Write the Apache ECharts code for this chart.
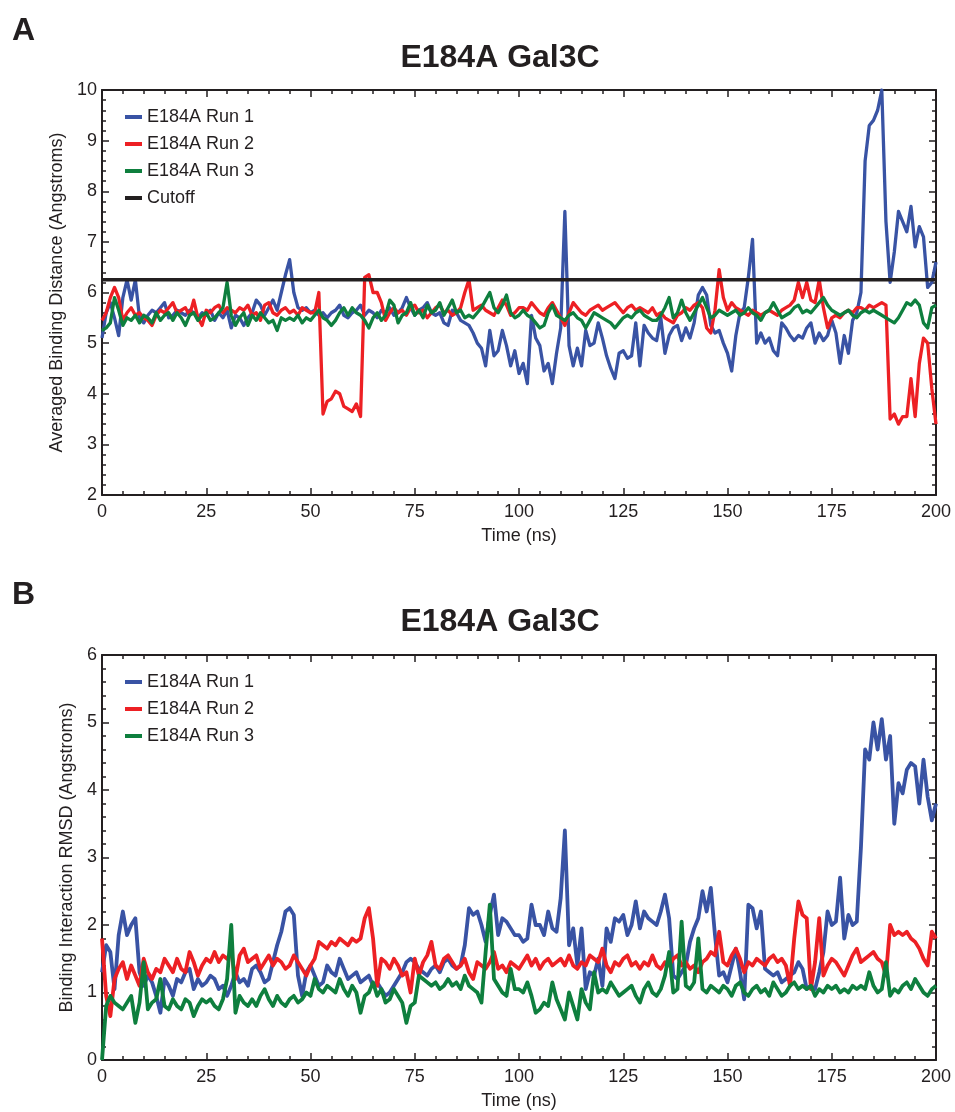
<!DOCTYPE html>
<html>
<head>
<meta charset="utf-8">
<script src="https://cdn.jsdelivr.net/npm/echarts@6/dist/echarts.min.js"></script>
<style>
  html, body { margin: 0; padding: 0; background: #fff; }
  #main { width: 955px; height: 1112px; }
</style>
</head>
<body>
<div id="main"></div>
<script>
// samples are 1 ns apart, starting at 0 ns
const stepNs = 1;

// Panel A: averaged binding distance (Angstroms)
const distRun1 = [
  5.1, 5.6, 5.8, 5.5, 5.15, 5.9, 6.25, 5.85, 6.25, 5.5,
  5.4, 5.55, 5.65, 5.6, 5.7, 5.8, 5.5, 5.55, 5.65, 5.6,
  5.55, 5.65, 5.6, 5.5, 5.6, 5.55, 5.65, 5.45, 5.6, 5.5,
  5.65, 5.3, 5.55, 5.5, 5.35, 5.5, 5.6, 5.85, 5.75, 5.55,
  5.7, 5.85, 5.65, 6.0, 6.35, 6.65, 6.0, 5.7, 5.65, 5.7,
  5.6, 5.65, 5.55, 5.6, 5.5, 5.6, 5.65, 5.75, 5.55, 5.5,
  5.6, 5.65, 5.75, 5.55, 5.65, 5.6, 5.5, 5.65, 5.6, 5.7,
  5.55, 5.6, 5.7, 5.9, 5.7, 5.55, 5.65, 5.7, 5.8, 5.6,
  5.55, 5.6, 5.4, 5.35, 5.65, 5.6, 5.45, 5.4, 5.35, 5.2,
  5.0, 4.9, 4.55, 5.25, 4.75, 4.85, 5.25, 4.95, 4.55, 4.85,
  4.4, 4.6, 4.2, 5.55, 5.1, 4.95, 4.45, 4.6, 4.2, 4.8,
  5.3, 7.6, 4.95, 4.55, 4.9, 4.55, 5.25, 4.95, 5.0, 5.4,
  5.1, 4.75, 4.5, 4.3, 4.8, 4.85, 4.7, 4.75, 5.4, 4.55,
  5.35, 5.2, 5.1, 5.05, 5.5, 4.8, 5.15, 5.3, 5.35, 5.05,
  5.3, 5.1, 5.4, 5.95, 6.1, 5.95, 5.35, 5.2, 5.25, 5.0,
  4.8, 4.45, 5.15, 5.6, 5.7, 6.3, 7.05, 5.0, 5.2, 5.0,
  5.1, 4.85, 4.75, 5.4, 5.3, 5.15, 5.05, 5.15, 5.1, 5.3,
  5.4, 5.0, 5.2, 5.05, 5.15, 5.45, 5.2, 4.6, 5.15, 4.8,
  5.45, 5.6, 6.0, 8.6, 9.3, 9.4, 9.6, 10.0, 7.4, 6.2,
  6.8, 7.6, 7.4, 7.2, 7.7, 6.9, 7.3, 7.1, 6.1, 6.2,
  6.6
];
const distRun2 = [
  5.45, 5.6, 5.9, 6.1, 5.9, 5.45, 5.6, 5.7, 5.55, 5.6,
  5.5, 5.45, 5.35, 5.55, 5.65, 5.6, 5.7, 5.8, 5.6, 5.65,
  5.7, 5.55, 5.85, 5.5, 5.35, 5.65, 5.6, 5.7, 5.75, 5.6,
  5.7, 5.65, 5.6, 5.7, 5.65, 5.75, 5.55, 5.6, 5.45, 5.75,
  5.8, 5.6, 5.55, 5.65, 5.7, 5.6, 5.65, 5.55, 5.7, 5.65,
  5.6, 5.6, 6.0, 3.6, 3.85, 3.9, 4.05, 4.0, 3.75, 3.7,
  3.65, 3.8, 3.55, 6.3, 6.35, 6.0, 6.0, 5.8, 5.45, 5.6,
  5.7, 5.6, 5.65, 5.55, 5.7, 5.75, 5.6, 5.65, 5.5, 5.6,
  5.7, 5.75, 5.6, 5.65, 5.55, 5.6, 5.7, 6.0, 6.25, 5.65,
  5.7, 5.75, 5.65, 5.6, 5.55, 5.7, 5.85, 5.75, 5.55, 5.6,
  5.7, 5.7, 5.65, 5.8, 5.7, 5.6, 5.55, 5.7, 5.8, 5.65,
  5.5, 5.35, 5.6, 5.8, 5.7, 5.6, 5.55, 5.65, 5.7, 5.75,
  5.65, 5.7, 5.75, 5.8, 5.7, 5.6, 5.7, 5.75, 5.65, 5.7,
  5.65, 5.6, 5.7, 5.55, 5.6, 5.5, 5.45, 5.4, 5.55, 5.6,
  5.7, 5.65, 5.75, 5.8, 5.7, 5.3, 5.2, 5.65, 6.45, 5.9,
  5.65, 5.8, 5.7, 5.65, 5.6, 5.55, 5.65, 5.6, 5.55, 5.6,
  5.65, 5.6, 5.55, 5.65, 5.7, 5.75, 5.85, 6.2, 5.9, 6.2,
  5.85, 5.8, 6.25, 5.7, 5.3, 5.5, 5.55, 5.5, 5.6, 5.65,
  5.6, 5.7, 5.7, 5.65, 5.75, 5.7, 5.75, 5.8, 5.75, 3.5,
  3.6, 3.4, 3.55, 3.55, 4.3, 3.55, 4.6, 5.1, 5.0, 4.1,
  3.4
];
const distRun3 = [
  5.25, 5.3, 5.4, 5.9, 5.65, 5.35, 5.5, 5.45, 5.55, 5.4,
  5.55, 5.5, 5.4, 5.6, 5.45, 5.55, 5.6, 5.45, 5.6, 5.5,
  5.35, 5.55, 5.6, 5.45, 5.55, 5.6, 5.45, 5.5, 5.6, 5.7,
  6.2, 5.55, 5.35, 5.5, 5.6, 5.35, 5.55, 5.45, 5.6, 5.5,
  5.4, 5.45, 5.25, 5.5, 5.45, 5.5, 5.45, 5.55, 5.4, 5.5,
  5.45, 5.55, 5.65, 5.5, 5.45, 5.35, 5.45, 5.6, 5.7, 5.55,
  5.7, 5.6, 5.55, 5.45, 5.3, 5.5, 5.6, 5.45, 5.55, 5.85,
  5.75, 5.4, 5.55, 5.6, 5.8, 5.55, 5.65, 5.5, 5.75, 5.6,
  5.65, 5.8, 5.55, 5.7, 5.85, 5.6, 5.65, 5.5, 5.55, 5.5,
  5.6, 5.7, 5.85, 6.0, 5.7, 5.6, 5.75, 5.95, 5.6, 5.5,
  5.55, 5.65, 5.55, 5.5, 5.4, 5.3, 5.35, 5.6, 5.75, 5.55,
  5.5, 5.45, 5.55, 5.6, 5.5, 5.45, 5.3, 5.45, 5.6, 5.55,
  5.5, 5.45, 5.4, 5.3, 5.4, 5.5, 5.55, 5.5, 5.6, 5.65,
  5.55, 5.5, 5.45, 5.45, 5.55, 5.7, 5.9, 5.5, 5.6, 5.85,
  5.6, 5.45, 5.6, 5.75, 5.9, 5.7, 5.5, 5.55, 5.65, 5.6,
  5.55, 5.6, 5.65, 5.55, 5.6, 5.7, 5.6, 5.55, 5.45, 5.6,
  5.65, 5.8, 5.65, 5.5, 5.55, 5.6, 5.7, 5.75, 5.6, 5.65,
  5.6, 5.7, 5.8, 5.9, 5.75, 5.65, 5.6, 5.55, 5.6, 5.65,
  5.55, 5.5, 5.6, 5.65, 5.6, 5.65, 5.6, 5.55, 5.5, 5.45,
  5.4, 5.5, 5.65, 5.8, 5.75, 5.85, 5.75, 5.4, 5.3, 5.7,
  5.75
];
const cutoffDist = 6.25;

// Panel B: binding interaction RMSD (Angstroms)
const rmsdRun1 = [
  1.3, 1.7, 1.6, 1.05, 1.85, 2.2, 1.85, 2.0, 2.1, 1.3,
  1.1, 1.25, 1.15, 0.95, 0.7, 1.2, 1.1, 0.95, 1.2, 1.15,
  1.3, 1.35, 1.05, 1.2, 1.1, 1.15, 1.25, 1.2, 1.05, 1.1,
  0.95, 1.1, 1.3, 1.15, 1.2, 1.1, 1.35, 1.4, 1.3, 1.15,
  1.2, 1.45, 1.7, 1.9, 2.2, 2.25, 2.15, 1.25, 0.95, 1.3,
  1.4, 1.25, 1.1, 1.15, 1.4, 1.3, 1.25, 1.5, 1.35, 1.2,
  1.25, 1.3, 1.15, 1.2, 1.25, 1.1, 1.15, 1.05, 0.95, 1.0,
  1.1, 1.2, 1.3, 1.45, 1.5, 1.45, 1.35, 1.3, 1.25, 1.35,
  1.4, 1.3, 1.45, 1.5, 1.4, 1.35, 1.4, 1.7, 2.25, 2.15,
  2.2, 2.0, 1.75, 2.15, 2.45, 1.85, 2.1, 2.05, 1.95, 1.85,
  1.85, 1.75, 1.8, 2.3, 2.0, 2.0, 1.85, 2.2, 1.95, 1.9,
  2.4, 3.4, 1.7, 1.95, 1.4, 1.95, 1.05, 1.3, 1.25, 1.5,
  1.1, 1.95, 1.75, 2.1, 2.05, 2.15, 1.85, 2.0, 2.35, 1.95,
  2.2, 2.1, 2.05, 2.0, 2.2, 2.45, 2.1, 1.25, 1.2, 1.3,
  1.4, 1.75, 1.95, 2.1, 2.5, 2.2, 2.55, 1.85, 1.25, 1.3,
  1.15, 1.4, 1.65, 1.3, 0.9, 2.3, 2.25, 1.95, 2.2, 1.35,
  1.3, 1.25, 1.3, 1.15, 1.2, 1.25, 1.3, 1.45, 1.35, 1.05,
  1.1, 1.05, 1.3, 1.6, 2.2, 2.0, 2.05, 2.7, 1.8, 2.15,
  2.0, 2.05, 3.15, 4.6, 4.45, 5.0, 4.6, 5.05, 4.45, 4.8,
  3.5, 4.1, 3.95, 4.3, 4.4, 4.35, 3.8, 4.45, 3.9, 3.55,
  3.8
];
const rmsdRun2 = [
  1.8, 0.95, 0.65, 1.2, 1.35, 1.45, 1.2, 1.4, 1.25, 1.1,
  1.5, 1.3, 1.2, 1.35, 1.3, 1.5, 1.4, 1.3, 1.5, 1.35,
  1.3, 1.6, 1.45, 1.25, 1.4, 1.5, 1.45, 1.6, 1.45, 1.55,
  1.5, 1.6, 1.2, 1.55, 1.65, 1.45, 1.5, 1.55, 1.35, 1.45,
  1.55, 1.4, 1.5, 1.45, 1.35, 1.4, 1.55, 1.45, 1.35, 1.25,
  1.4, 1.5, 1.75, 1.7, 1.65, 1.75, 1.7, 1.8, 1.75, 1.7,
  1.8, 1.75, 1.8, 2.1, 2.25, 1.8, 1.1, 1.5, 1.45, 1.35,
  1.5, 1.4, 1.25, 1.3, 1.0, 1.5, 1.25, 1.45, 1.55, 1.75,
  1.4, 1.35, 1.5, 1.55, 1.45, 1.35, 1.4, 1.5, 1.3, 1.2,
  1.45, 1.4, 1.35, 1.45, 1.6, 1.35, 1.4, 1.3, 1.45, 1.4,
  1.35, 1.45, 1.55, 1.4, 1.5, 1.35, 1.45, 1.5, 1.4, 1.45,
  1.5, 1.4, 1.55, 1.4, 1.35, 1.45, 1.4, 1.55, 1.5, 1.45,
  1.65, 1.4, 1.3, 1.45, 1.4, 1.5, 1.55, 1.4, 1.45, 1.35,
  1.45, 1.4, 1.55, 1.4, 1.35, 1.45, 1.4, 1.5, 1.55, 1.4,
  1.45, 1.35, 1.4, 1.3, 1.45, 1.5, 1.6, 1.55, 1.9, 1.45,
  1.4, 1.55, 1.65, 1.5, 1.3, 1.45, 1.4, 1.5, 1.45, 1.4,
  1.5, 1.55, 1.45, 1.5, 1.4, 1.1, 1.8, 2.35, 2.15, 2.1,
  1.05, 1.45, 2.1, 1.25, 1.4, 1.5, 1.45, 1.35, 1.25, 1.4,
  1.55, 1.65, 1.45, 1.5, 1.55, 1.6, 1.5, 1.45, 1.25, 2.0,
  1.85, 1.9, 1.85, 1.9, 1.8, 1.75, 1.65, 1.5, 1.4, 1.9,
  1.8
];
const rmsdRun3 = [
  0.0, 0.8, 0.95, 0.85, 0.8, 0.75, 0.85, 0.95, 0.55, 0.85,
  1.45, 0.75, 0.85, 0.9, 1.2, 0.8, 0.75, 0.9, 0.8, 0.75,
  0.9, 0.85, 0.65, 0.8, 0.9, 0.85, 0.9, 0.8, 0.75, 0.9,
  1.2, 2.0, 0.7, 0.95, 0.85, 0.8, 0.9, 0.8, 0.95, 1.05,
  0.9, 0.8, 0.95, 0.85, 0.8, 0.9, 0.95, 0.85, 0.9, 1.0,
  0.95, 1.2, 1.05, 1.0, 1.1, 1.05, 1.0, 1.2, 1.05, 0.95,
  1.1, 1.0, 0.7, 0.95, 1.0, 1.15, 0.95, 1.05, 0.85, 0.9,
  1.05, 0.95, 0.85, 0.55, 0.8, 0.85, 1.25, 1.2, 1.15, 1.1,
  1.15, 1.05, 1.1, 1.2, 1.1, 1.15, 1.05, 1.25, 1.1, 1.05,
  1.0, 0.85, 1.6, 2.3, 1.2, 1.1, 1.0, 0.95, 1.35, 1.05,
  1.05, 1.0, 1.15, 0.95, 0.7, 0.75, 0.85, 0.8, 1.15, 0.9,
  0.75, 0.6, 1.0, 0.8, 0.6, 1.05, 0.85, 0.75, 1.3, 1.0,
  1.05, 1.0, 1.15, 1.05, 0.95, 1.0, 1.05, 1.1, 0.95, 0.85,
  1.05, 1.15, 1.0, 0.95, 1.05, 1.25, 1.6, 1.0, 1.05, 2.05,
  1.1, 1.05, 1.15, 1.8, 1.05, 1.0, 1.1, 1.05, 1.0, 1.1,
  1.05, 0.95, 1.1, 1.15, 1.0, 0.95, 1.05, 1.1, 1.0, 1.05,
  0.95, 1.15, 1.05, 0.95, 1.0, 1.1, 1.15, 1.05, 1.1, 1.05,
  1.1, 0.95, 1.05, 1.0, 1.1, 1.05, 1.1, 1.0, 1.05, 1.0,
  1.1, 1.05, 1.1, 1.05, 1.3, 1.1, 1.0, 1.05, 1.45, 0.95,
  1.05, 1.0, 1.1, 1.15, 1.05, 1.2, 1.1, 1.0, 0.95, 1.05,
  1.1
];

const runNames = ['E184A Run 1', 'E184A Run 2', 'E184A Run 3'];
const runColors = ['#3953a4', '#ed2024', '#0e7f3e'];
const panelTitle = 'E184A Gal3C';

const FONT = '"Liberation Sans", Arial, Helvetica, sans-serif';
const INK = '#231f20';

function toPairs(values) {
  return values.map((v, i) => [i * stepNs, v]);
}

// x axis (bottom with labels, top mirrored with ticks only)
function makeX(grid, top) {
  return {
    type: 'value', gridIndex: grid, position: top ? 'top' : 'bottom',
    min: 0, max: 200, interval: 25,
    name: top ? '' : 'Time (ns)', nameLocation: 'middle', nameGap: 32,
    nameTextStyle: { color: INK, fontSize: 18, fontFamily: FONT },
    axisLine: { show: true, onZero: false, lineStyle: { color: INK, width: 2 } },
    axisTick: { show: true, inside: true, length: 7, lineStyle: { color: INK, width: 1.5 } },
    minorTick: { show: true, splitNumber: 5, length: 4, lineStyle: { color: INK, width: 1.5 } },
    axisLabel: { show: !top, margin: 8, color: INK, fontSize: 18, fontFamily: FONT, showMinLabel: true, showMaxLabel: true, hideOverlap: false },
    splitLine: { show: false }, minorSplitLine: { show: false }
  };
}

function makeY(grid, right, min, max, name, gap) {
  return {
    type: 'value', gridIndex: grid, position: right ? 'right' : 'left',
    min: min, max: max, interval: 1,
    name: right ? '' : name, nameLocation: 'middle', nameGap: gap, nameRotate: 90,
    nameTextStyle: { color: INK, fontSize: 18, fontFamily: FONT },
    axisLine: { show: true, onZero: false, lineStyle: { color: INK, width: 2 } },
    axisTick: { show: true, inside: true, length: 7, lineStyle: { color: INK, width: 1.5 } },
    minorTick: { show: true, splitNumber: 5, length: 4, lineStyle: { color: INK, width: 1.5 } },
    axisLabel: { show: !right, margin: 5, color: INK, fontSize: 18, fontFamily: FONT, showMinLabel: true, showMaxLabel: true, hideOverlap: false },
    splitLine: { show: false }, minorSplitLine: { show: false }
  };
}

function runSeries(name, color, values, xi, yi, width) {
  return {
    name: name, type: 'line', xAxisIndex: xi, yAxisIndex: yi,
    data: toPairs(values), showSymbol: false, symbol: 'none',
    lineStyle: { color: color, width: width, join: 'round' },
    itemStyle: { color: color }, emphasis: { disabled: true }
  };
}

function legendAt(top, names) {
  return {
    orient: 'vertical', left: 120, top: top, itemWidth: 17, itemHeight: 4, itemGap: 9,
    icon: 'rect', selectedMode: false,
    textStyle: { color: INK, fontSize: 18, fontFamily: FONT },
    data: names
  };
}

const chart = echarts.init(document.getElementById('main'), null, { renderer: 'canvas' });

chart.setOption({
  animation: false,
  backgroundColor: '#ffffff',
  textStyle: { fontFamily: FONT },
  grid: [
    { left: 102, top: 90, width: 834, height: 405 },
    { left: 102, top: 655, width: 834, height: 405 }
  ],
  xAxis: [makeX(0, false), makeX(0, true), makeX(1, false), makeX(1, true)],
  yAxis: [
    makeY(0, false, 2, 10, 'Averaged Binding Distance (Angstroms)', 36),
    makeY(0, true, 2, 10, '', 0),
    makeY(1, false, 0, 6, 'Binding Interaction RMSD (Angstroms)', 26),
    makeY(1, true, 0, 6, '', 0)
  ],
  legend: [
    legendAt(103, runNames.concat(['Cutoff'])),
    legendAt(668, runNames)
  ],
  graphic: [
    { type: 'text', x: 12, y: 31, style: { text: 'A', font: 'bold 32px ' + FONT, fill: INK, textVerticalAlign: 'middle' } },
    { type: 'text', x: 500, y: 58, style: { text: panelTitle, font: 'bold 32px ' + FONT, fill: INK, textAlign: 'center', textVerticalAlign: 'middle' } },
    { type: 'text', x: 12, y: 595, style: { text: 'B', font: 'bold 32px ' + FONT, fill: INK, textVerticalAlign: 'middle' } },
    { type: 'text', x: 500, y: 622, style: { text: panelTitle, font: 'bold 32px ' + FONT, fill: INK, textAlign: 'center', textVerticalAlign: 'middle' } }
  ],
  series: [
    runSeries(runNames[0], runColors[0], distRun1, 0, 0, 3.3),
    runSeries(runNames[1], runColors[1], distRun2, 0, 0, 3.3),
    runSeries(runNames[2], runColors[2], distRun3, 0, 0, 3.3),
    {
      name: 'Cutoff', type: 'line', xAxisIndex: 0, yAxisIndex: 0,
      data: [[0, cutoffDist], [200, cutoffDist]], showSymbol: false, symbol: 'none',
      lineStyle: { color: INK, width: 3.5 }, itemStyle: { color: INK }, emphasis: { disabled: true }
    },
    runSeries(runNames[0], runColors[0], rmsdRun1, 2, 2, 3.8),
    runSeries(runNames[1], runColors[1], rmsdRun2, 2, 2, 3.8),
    runSeries(runNames[2], runColors[2], rmsdRun3, 2, 2, 3.8)
  ]
});
</script>
</body>
</html>
